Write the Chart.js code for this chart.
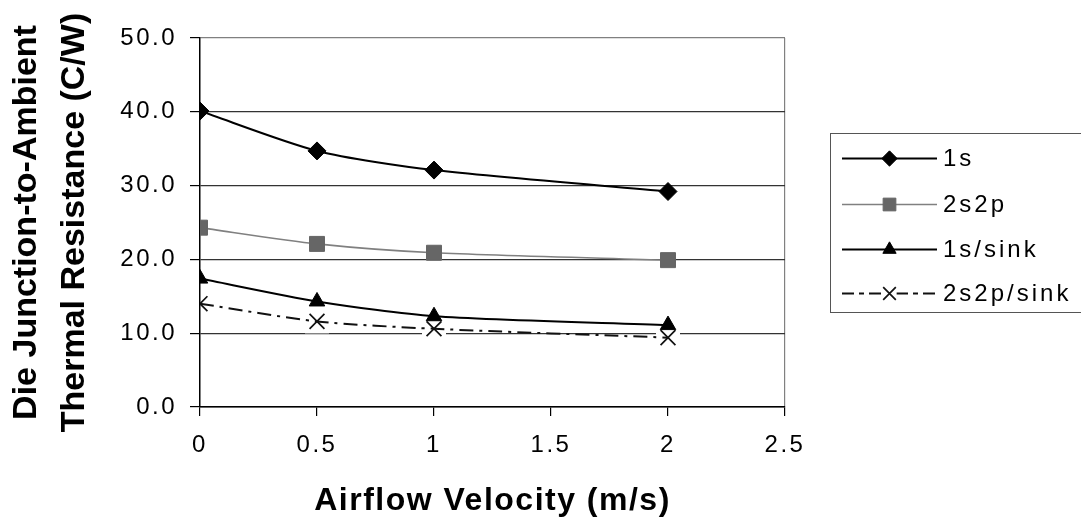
<!DOCTYPE html>
<html><head><meta charset="utf-8">
<script src="https://cdn.jsdelivr.net/npm/chart.js@4/dist/chart.umd.min.js"></script>
<style>
html,body{margin:0;padding:0;background:#fff;overflow:hidden}
#wrap{position:relative;width:1081px;height:521px}
#c{position:absolute;left:0;top:0}
#legend{position:absolute;left:830px;top:133px;width:270px;height:178px;border:1.5px solid #555;background:#fff;font-family:"Liberation Sans",Arial,sans-serif;font-size:24px;letter-spacing:3px;color:#000}
.row{position:absolute;left:11px;height:30px;display:flex;align-items:center;white-space:nowrap}
.row canvas{display:block}
.row span{margin-left:6px}
</style></head>
<body><div id="wrap"><canvas id="c" width="1081" height="521"></canvas><div id="legend"></div></div>
<script>
// ---- data ----
const velocities = [0, 0.5, 1, 2];
const seriesNames = ['1s', '2s2p', '1s/sink', '2s2p/sink'];
const r1s = [40.1, 34.7, 32.1, 29.2];
const r2s2p = [24.3, 22.1, 20.9, 19.9];
const r1sSink = [17.4, 14.3, 12.3, 11.1];
const r2s2pSink = [14.0, 11.6, 10.6, 9.4];
const xTicks = [0, 0.5, 1, 1.5, 2, 2.5];
const yTicks = [0, 10, 20, 30, 40, 50];
const xTitle = 'Airflow Velocity (m/s)';
const yTitle = ['Die Junction-to-Ambient', 'Thermal Resistance (C/W)'];

const FONT = '"Liberation Sans", Arial, sans-serif';
const pts = vals => velocities.map((v, i) => ({x: v, y: vals[i]}));

const styles = [
  {borderColor: '#000', backgroundColor: '#000', pointStyle: 'rectRot', pointRadius: 9, borderWidth: 2, pointBorderWidth: 1, borderDash: []},
  {borderColor: '#808080', backgroundColor: '#666', pointStyle: 'rect', pointRadius: 10.6, borderWidth: 1.6, pointBorderWidth: 1, borderDash: []},
  {borderColor: '#000', backgroundColor: '#000', pointStyle: 'triangle', pointRadius: 9, borderWidth: 2, pointBorderWidth: 1, borderDash: []},
  {borderColor: '#111', backgroundColor: '#111', pointStyle: 'crossRot', pointRadius: 10.5, borderWidth: 2, pointBorderWidth: 1.7, borderDash: [14, 6, 3, 6]}
];
const values = [r1s, r2s2p, r1sSink, r2s2pSink];

const datasets = seriesNames.map((name, i) => ({
  label: name,
  data: pts(values[i]),
  borderColor: styles[i].borderColor,
  backgroundColor: styles[i].backgroundColor,
  pointBackgroundColor: styles[i].backgroundColor,
  pointBorderColor: i === 1 ? '#666' : styles[i].borderColor,
  pointStyle: styles[i].pointStyle,
  pointRadius: styles[i].pointRadius,
  pointHoverRadius: styles[i].pointRadius,
  pointBorderWidth: styles[i].pointBorderWidth,
  borderWidth: styles[i].borderWidth,
  borderDash: styles[i].borderDash,
  tension: 0.25,
  fill: false
}));

function patchScale(scale, labelSpacing, titleSpacing) {
  if (scale._lsPatched) return;
  const dl = scale.drawLabels, dt = scale.drawTitle;
  scale.drawLabels = function () { const c = this.ctx, p = c.letterSpacing; c.letterSpacing = labelSpacing; dl.apply(this, arguments); c.letterSpacing = p; };
  scale.drawTitle = function () { const c = this.ctx, p = c.letterSpacing; c.letterSpacing = titleSpacing; dt.apply(this, arguments); c.letterSpacing = p; };
  scale._lsPatched = true;
}

// white marker backgrounds of the X series (they break the gridlines, as in the original)
const markerBackdrop = {
  id: 'markerBackdrop',
  beforeDatasetsDraw(chart) {
    const meta = chart.getDatasetMeta(3);
    const ctx = chart.ctx;
    ctx.save();
    ctx.fillStyle = '#fff';
    meta.data.forEach((p, j) => {
      if (velocities[j] === 0) return;
      ctx.fillRect(p.x - 12, p.y - 12, 24, 24);
    });
    ctx.restore();
  }
};

const chart = new Chart(document.getElementById('c'), {
  type: 'line',
  data: {datasets},
  plugins: [markerBackdrop],
  options: {
    responsive: false,
    animation: false,
    devicePixelRatio: 1,
    layout: {padding: {top: 38, right: 296, left: 0, bottom: 0}},
    plugins: {legend: {display: false}, tooltip: {enabled: false}},
    scales: {
      x: {
        type: 'linear', min: 0, max: 2.5,
        afterBuildTicks: s => { s.ticks = xTicks.map(v => ({value: v})); },
        afterFit: s => { s.height = 114; patchScale(s, '2.5px', '1.5px'); },
        ticks: {color: '#000', font: {family: FONT, size: 24}, padding: 15, maxRotation: 0, callback: v => String(v)},
        grid: {color: c => (c.tick && c.tick.value === 2.5) ? '#808080' : 'rgba(0,0,0,0)', tickColor: '#000', tickLength: 9, lineWidth: 1.2},
        border: {color: '#000', width: 1.5},
        title: {display: true, text: xTitle, color: '#000', font: {family: FONT, size: 32, weight: 'bold', lineHeight: 1}, padding: {top: 0, bottom: 4}}
      },
      y: {
        type: 'linear', min: 0, max: 50,
        afterBuildTicks: s => { s.ticks = yTicks.map(v => ({value: v})); },
        afterFit: s => { s.width = 200; patchScale(s, '2.5px', '0px'); },
        ticks: {color: '#000', font: {family: FONT, size: 24}, padding: 13, callback: v => Number(v).toFixed(1)},
        grid: {color: c => (c.tick && c.tick.value === 50) ? '#808080' : '#333', tickColor: '#000', tickLength: 10, lineWidth: 1.2},
        border: {color: '#000', width: 1.5},
        title: {display: true, text: yTitle, color: '#000', font: {family: FONT, size: 34, weight: 'bold', lineHeight: 1.42}, padding: {top: 2, bottom: 0}}
      }
    }
  }
});

// ---- HTML legend with samples drawn by Chart.js helpers ----
const legend = document.getElementById('legend');
const rowCenters = [24, 70, 115, 159];
const helpers = Chart.helpers;
datasets.forEach((ds, i) => {
  const row = document.createElement('div');
  row.className = 'row';
  row.style.top = (rowCenters[i] - 15) + 'px';
  const cv = document.createElement('canvas');
  cv.width = 95; cv.height = 30;
  const ctx = cv.getContext('2d');
  ctx.strokeStyle = ds.borderColor;
  ctx.lineWidth = ds.borderWidth;
  ctx.setLineDash(i === 3 ? [12, 5, 5, 5] : []);
  ctx.beginPath(); ctx.moveTo(0, 15.5); ctx.lineTo(95, 15.5); ctx.stroke();
  ctx.setLineDash([]);
  ctx.fillStyle = ds.pointBackgroundColor;
  ctx.strokeStyle = ds.pointBorderColor;
  ctx.lineWidth = ds.pointBorderWidth;
  const r = ds.pointRadius * 0.85;
  if (helpers && helpers.drawPoint) {
    if (i === 3) { ctx.fillStyle = '#fff'; ctx.fillRect(47.5 - r * 0.8, 15.5 - r * 0.8, r * 1.6, r * 1.6); ctx.fillStyle = ds.pointBackgroundColor; }
    helpers.drawPoint(ctx, {pointStyle: ds.pointStyle, radius: r, rotation: 0, borderWidth: ds.pointBorderWidth}, 47.5, 15.5);
  }
  const sp = document.createElement('span');
  sp.textContent = ds.label;
  row.appendChild(cv); row.appendChild(sp);
  legend.appendChild(row);
});
</script>
</body></html>
